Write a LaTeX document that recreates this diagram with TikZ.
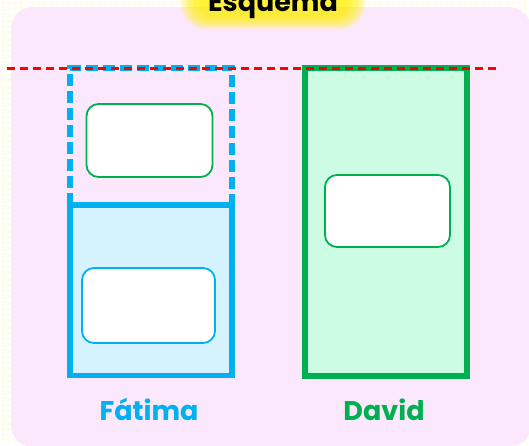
\documentclass[tikz,border=0pt]{standalone}
\usepackage{fontspec}
\setmainfont{Poppins}[BoldFont={Poppins Bold}]
\definecolor{bgcream}{HTML}{FDFDEA}
\definecolor{panelpink}{HTML}{FCE8FC}
\definecolor{myblue}{HTML}{00B0F0}
\definecolor{lightblue}{HTML}{D5F3FE}
\definecolor{mygreen}{HTML}{00B050}
\definecolor{lightgreen}{HTML}{CCFCE4}
\tikzset{
  column/.style={line width=5.5pt},
  innerbox/.style={draw, fill=white, line width=1.8pt, rounded corners=12pt},
  label/.style={font=\bfseries\fontsize{27}{31}\selectfont, anchor=base},
}
\begin{document}
\begin{tikzpicture}[x=1pt,y=-1pt]
\useasboundingbox (0,0) rectangle (529,445);
% background
\fill[bgcream] (0,0) rectangle (529,445);
\draw[white, line width=1.5pt, step=6pt] (0,0) grid (529,445);
\clip (0,0) rectangle (529,445);
% panel
\fill[panelpink, rounded corners=22pt] (11,7) rectangle (531,447);
% title glow
\foreach \i in {0,...,8}{
  \fill[yellow, opacity=0.15, rounded corners={14pt+1.4pt*\i}]
     (198-2.2*\i,-20-\i) rectangle (348+2.2*\i,17+1.5*\i);
}
\node[label, text=black] (title) at (273,11) {Esquema};
% Fatima column
\draw[myblue, column, dash pattern=on 12pt off 5pt] (70,205) -- (70,68) -- (232,68) -- (232,205);
\draw[myblue, column, fill=lightblue] (70,205) rectangle (232,375.5);
\node[innerbox, draw=mygreen, minimum width=126pt, minimum height=73pt] (fa1) at (149.5,140.5) {};
\node[innerbox, draw=myblue, minimum width=133pt, minimum height=75pt] (fa2) at (148.5,305.5) {};
% David column
\draw[mygreen, column, fill=lightgreen] (305,68) rectangle (467,376);
\node[innerbox, draw=mygreen, minimum width=125pt, minimum height=72pt] (da1) at (387.5,211) {};
% red dashed line
\draw[red, line width=3pt, dash pattern=on 8pt off 5pt] (7,68) -- (498,68);
% labels
\node[label, text=myblue] (fatima) at (149,420.5) {Fátima};
\node[label, text=mygreen] (david) at (384,420.5) {David};
\end{tikzpicture}
\end{document}
